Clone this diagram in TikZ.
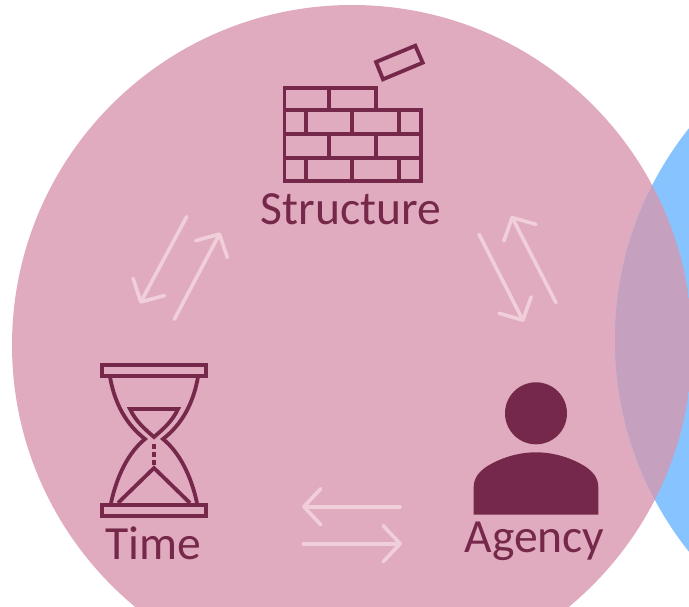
\documentclass[tikz,border=0pt]{standalone}
\usepackage{fontspec}
\setmainfont{Carlito}
\usetikzlibrary{arrows.meta}
\definecolor{pinkdisc}{HTML}{E0ABBF}
\definecolor{bluedisc}{HTML}{86C3FF}
\definecolor{overlapdisc}{HTML}{C6A0BF}
\definecolor{plum}{HTML}{75284A}
\definecolor{palearrow}{HTML}{F0CFDB}
\tikzset{
  icon/.style={draw=plum,line width=3.8pt,line join=miter},
  caption/.style={text=plum,font=\fontsize{47.6pt}{47.6pt}\selectfont,inner sep=0pt,anchor=base},
  flow/.style={draw=palearrow,line width=3.6pt,line cap=round,
    -{Straight Barb[round,length=17pt,width=36pt]}}
}
\begin{document}
\begin{tikzpicture}[x=1pt,y=-1pt]
\useasboundingbox (0,0) rectangle (689,606);
\clip (0,0) rectangle (689,606);
% discs
\fill[pinkdisc] (352,345) circle[radius=340];
\fill[bluedisc] (955,340) circle[radius=340];
\begin{scope}
  \clip (352,345) circle[radius=340];
  \fill[overlapdisc] (955,340) circle[radius=340];
\end{scope}
% wall icon
\draw[icon] (284.5,110) -- (284.5,88) -- (375.7,88) -- (375.7,110);
\draw[icon] (284.5,110) rectangle (420.7,180.7);
\draw[icon] (284.5,134) -- (420.7,134) (284.5,158) -- (420.7,158);
\draw[icon] (329,88) -- (329,110) (329,134) -- (329,158) (375.7,134) -- (375.7,158);
\draw[icon] (305.7,110) -- (305.7,134) (352.3,110) -- (352.3,134) (399,110) -- (399,134);
\draw[icon] (305.7,158) -- (305.7,180.7) (352.3,158) -- (352.3,180.7) (399,158) -- (399,180.7);
\draw[icon] (376,62) -- (415.3,45.7) -- (422.7,62.7) -- (383,79.3) -- cycle;
% hourglass icon
\draw[icon] (101.7,364.7) rectangle (206.3,375.7);
\draw[icon] (101.7,504.7) rectangle (206.3,515.7);
\draw[icon] (110,377) .. controls (115,405) and (127,425) .. (145,439)
  .. controls (129,452) and (117,475) .. (111,503);
\draw[icon] (198,377) .. controls (193,405) and (181,425) .. (163,439)
  .. controls (179,452) and (191,475) .. (197,503);
\draw[icon] (130,409) -- (178,409) .. controls (172,422) and (162,430) .. (154,437)
  .. controls (146,430) and (136,422) .. (130,409) -- cycle;
\draw[icon] (118,503) -- (154,468) -- (190,503);
\fill[plum] (152,444) rectangle (156,448.5);
\fill[plum] (152,452) rectangle (156,456.5);
\fill[plum] (152,460) rectangle (156,464.5);
% person icon
\fill[plum] (536,413.3) circle[radius=31];
\fill[plum] (473.7,514.7) -- (473.7,487) .. controls (473.7,478) and (479,472) .. (486,467)
  .. controls (500,458) and (518,452.3) .. (536,452.3)
  .. controls (554,452.3) and (572,458) .. (586,467)
  .. controls (593,472) and (598.3,478) .. (598.3,487) -- (598.3,514.7) -- cycle;
% labels
\node[caption] (structure) at (351,224) {Structure};
\node[caption] (time) at (153.5,559) {Time};
\node[caption] (agency) at (534.5,552) {Agency};
% exchange arrows
\coordinate (a1s) at (186.7,216.7); \coordinate (a1e) at (140,303.5);
\coordinate (a2s) at (174.3,319.3); \coordinate (a2e) at (220.3,232.5);
\coordinate (a3s) at (479,234.3);   \coordinate (a3e) at (523.7,321.8);
\coordinate (a4s) at (556,302.7);   \coordinate (a4e) at (511.3,215.9);
\coordinate (a5s) at (400,506.7);   \coordinate (a5e) at (302,506.7);
\coordinate (a6s) at (303.3,543.7); \coordinate (a6e) at (402,543.7);
\draw[flow] (a1s) -- (a1e);
\draw[flow] (a2s) -- (a2e);
\draw[flow] (a3s) -- (a3e);
\draw[flow] (a4s) -- (a4e);
\draw[flow] (a5s) -- (a5e);
\draw[flow] (a6s) -- (a6e);
\end{tikzpicture}
\end{document}
